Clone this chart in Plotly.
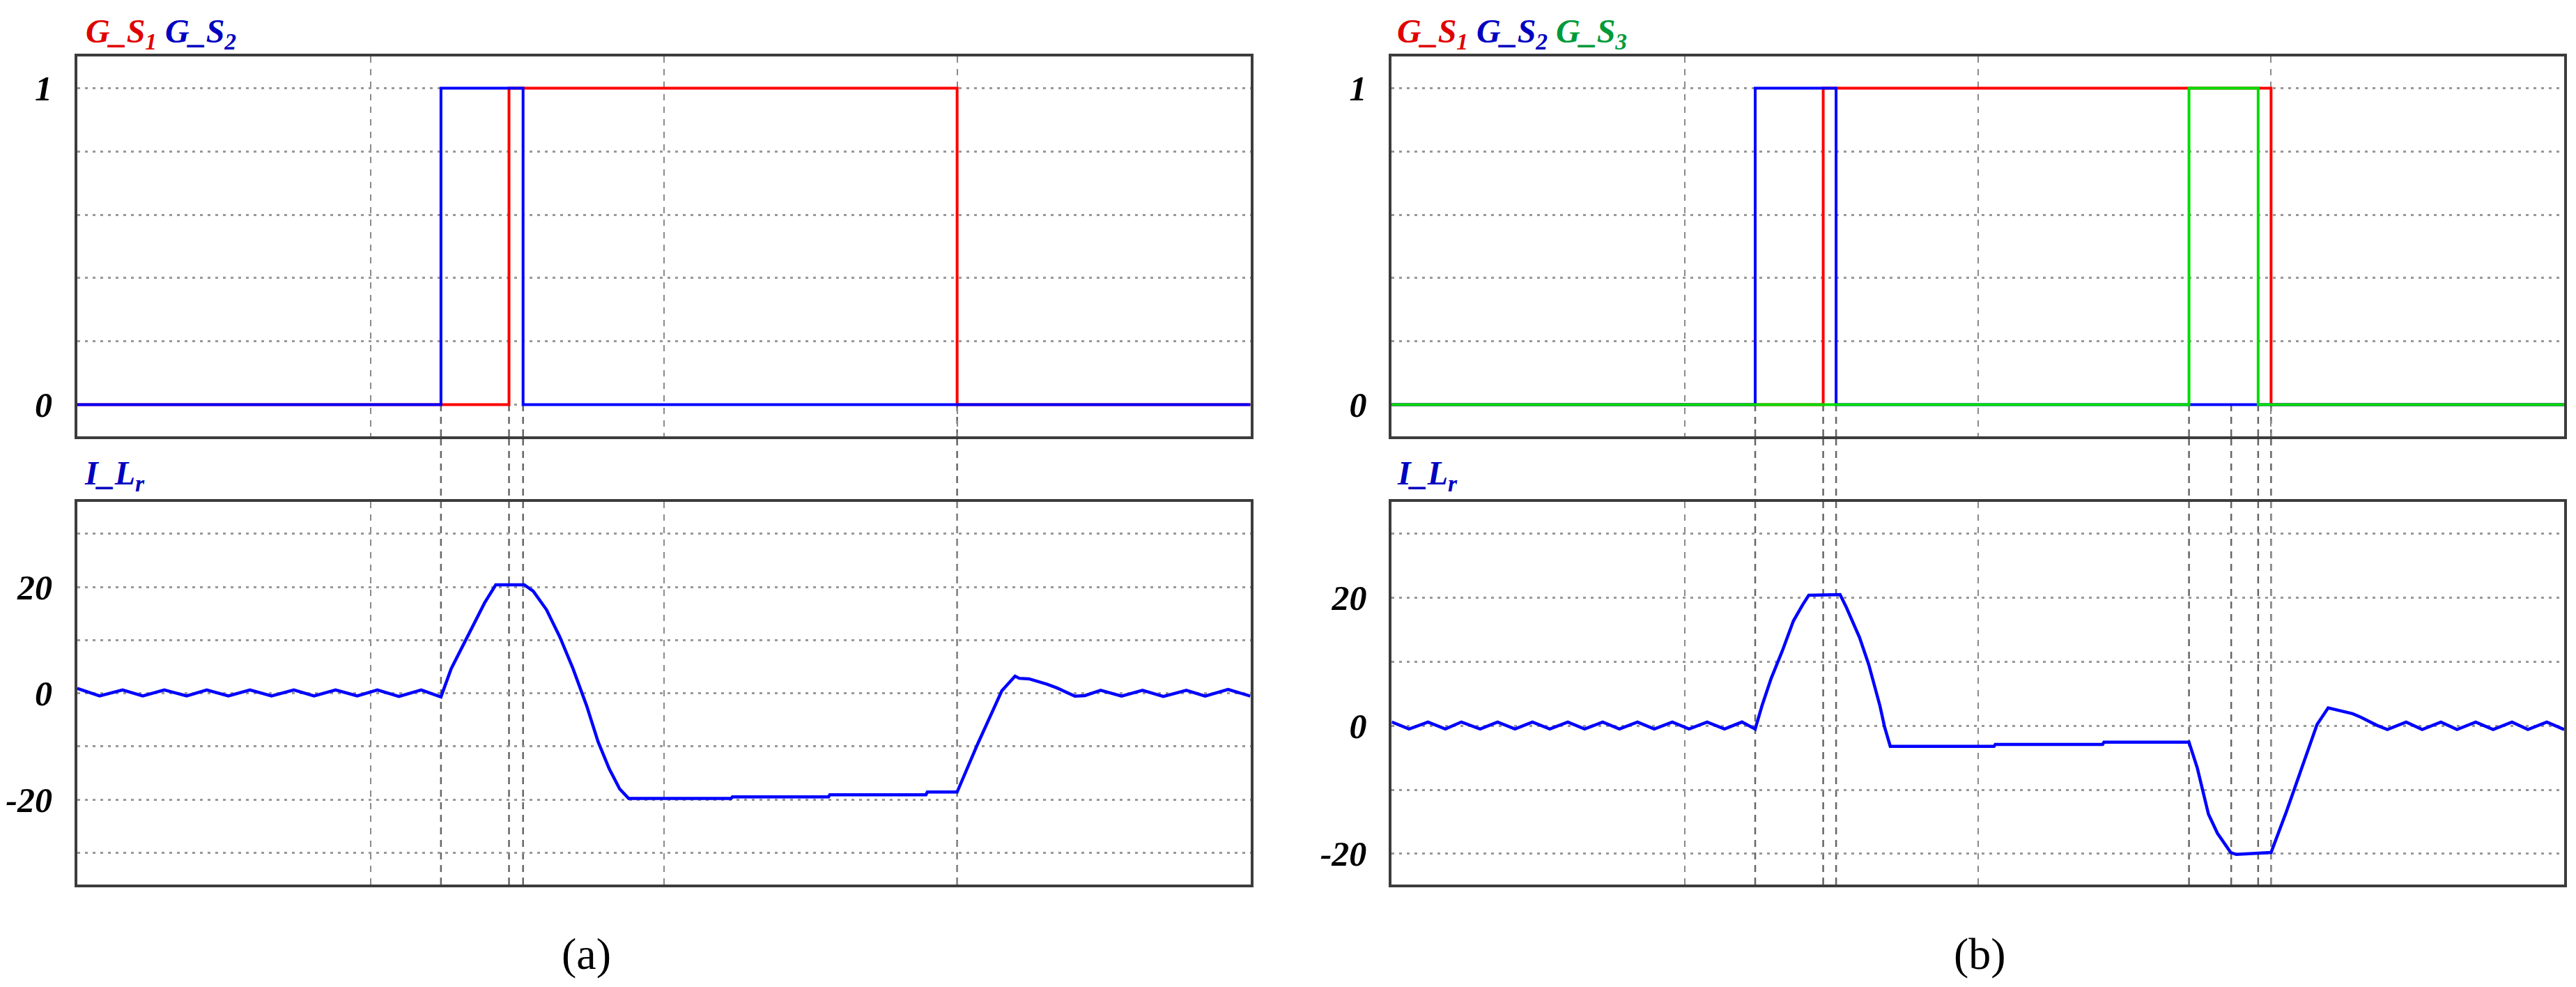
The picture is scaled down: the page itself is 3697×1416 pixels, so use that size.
import plotly.graph_objects as go

# ---------------- data ----------------
# time axis: 0..100 (arbitrary units, vertical grid every 25)
grid_t = [25, 50, 75]

# gate signals, panel (a)
t_gs1_a = [0, 36.8, 75.0, 100]
v_gs1_a = [0, 1, 0, 0]
t_gs2_a = [0, 31.0, 38.0, 100]
v_gs2_a = [0, 1, 0, 0]

# gate signals, panel (b)
t_gs1_b = [0, 36.8, 75.0, 100]
v_gs1_b = [0, 1, 0, 0]
t_gs2_b = [0, 31.0, 37.9, 100]
v_gs2_b = [0, 1, 0, 0]
t_gs3_b = [0, 68.0, 73.9, 100]
v_gs3_b = [0, 1, 0, 0]

# resonant inductor current, panel (a)
t_il_a = [0.0, 1.90, 3.86, 5.58, 7.42, 9.32, 11.04, 12.88, 14.72, 16.56, 18.46, 20.18,
          22.02, 23.86, 25.58, 27.42, 29.32, 31.0,
          31.87, 33.59, 34.72, 35.67, 38.10, 38.87, 40.0, 41.13, 42.26, 43.44, 44.39,
          45.34, 46.23, 47.0,
          55.73, 55.85, 64.04, 64.15, 72.34, 72.46, 75.0,
          76.74, 77.86, 78.81, 79.94, 80.3, 81.13, 81.9, 82.67, 83.5, 84.27, 85.04,
          85.88, 87.24, 89.02, 90.8, 92.58, 94.54, 96.14, 98.1, 100.0]
v_il_a = [0.9, -0.5, 0.6, -0.5, 0.6, -0.5, 0.6, -0.5, 0.6, -0.5, 0.6, -0.5,
          0.6, -0.5, 0.6, -0.6, 0.6, -0.7,
          4.6, 12.1, 17.0, 20.4, 20.4, 19.2, 15.7, 10.6, 4.6, -2.5, -9.1,
          -14.2, -18.0, -19.8,
          -19.8, -19.5, -19.5, -19.1, -19.1, -18.6, -18.6,
          -9.6, -4.3, 0.45, 3.2, 2.8, 2.7, 2.2, 1.7, 1.0, 0.2, -0.55,
          -0.45, 0.55, -0.55, 0.55, -0.6, 0.55, -0.55, 0.7, -0.55]

# resonant inductor current, panel (b)
t_il_b = [0.0, 1.48, 3.09, 4.57, 5.94, 7.54, 9.03, 10.51, 12.0, 13.48, 15.02, 16.45,
          17.99, 19.42, 20.96, 22.39, 23.93, 25.36, 26.9, 28.38, 29.87, 31.0,
          31.59, 32.36, 33.31, 34.26, 35.04, 35.57, 38.24, 38.78, 39.9, 40.68, 41.63,
          42.04, 42.52,
          51.37, 51.48, 60.63, 60.75, 68.0,
          68.71, 69.66, 70.43, 71.56, 72.03, 75.0,
          76.31, 77.79, 78.92, 79.87, 80.82, 81.95, 82.66, 83.25, 84.03, 84.92, 86.52,
          87.89, 89.49, 90.86, 92.46, 93.94, 95.55, 96.91, 98.52, 100.0]
v_il_b = [0.6, -0.5, 0.6, -0.5, 0.6, -0.5, 0.6, -0.5, 0.6, -0.5, 0.6, -0.5,
          0.6, -0.5, 0.6, -0.5, 0.6, -0.5, 0.6, -0.5, 0.6, -0.5,
          3.2, 7.4, 11.7, 16.4, 18.9, 20.4, 20.5, 18.5, 13.8, 9.6, 3.2,
          -0.2, -3.2,
          -3.2, -2.9, -2.9, -2.55, -2.55,
          -6.6, -13.8, -16.8, -19.8, -20.1, -19.8,
          -13.4, -5.7, 0.2, 2.8, 2.4, 1.9, 1.35, 0.77, 0.08, -0.58, 0.58,
          -0.58, 0.58, -0.58, 0.58, -0.58, 0.58, -0.58, 0.58, -0.58]

# switching instants marked by dashed lines
events_a = [31.0, 36.8, 38.0, 75.0]
events_b = [31.0, 36.8, 37.9, 68.0, 71.6, 73.9, 75.0]

# axis ticks (labelled) and extra grid levels (unlabelled)
gate_ticks = [0, 1]
gate_ticktext = ["0", "1"]
gate_grid = [0.2, 0.4, 0.6, 0.8]
il_ticks = [-20, 0, 20]
il_ticktext = ["-20", "0", "20"]
il_grid_a = [-30, -10, 10, 30]
il_grid_b = [-10, 10, 30]

gate_range = [-0.1, 1.1]
il_range_a = [-36, 36]
il_range_b = [-24.8, 35.0]

# ---------------- layout helpers ----------------
W, H = 3697, 1416


def fx(p):
    return p / W


def fy(p):
    return 1 - p / H


dom_a = [fx(100), fx(1785)]
dom_b = [fx(1988), fx(3672)]
dom_top = [fy(618), fy(73)]
dom_bot = [fy(1261), fy(712)]

RED, BLUE, GREEN = '#ff0000', '#0000ff', '#00dd00'
TXT_RED, TXT_BLUE, TXT_GREEN = '#e00000', '#0000c0', '#009a3a'
GATE_W = 4
IL_W = 4.5

fig = go.Figure()


def gate(x, y, col, xa, ya):
    fig.add_trace(go.Scatter(x=x, y=y, mode='lines', xaxis=xa, yaxis=ya,
                             line=dict(color=col, width=GATE_W, shape='hv'),
                             showlegend=False, hoverinfo='skip'))


gate(t_gs1_a, v_gs1_a, RED, 'x', 'y')
gate(t_gs2_a, v_gs2_a, BLUE, 'x', 'y')
fig.add_trace(go.Scatter(x=t_il_a, y=v_il_a, mode='lines', xaxis='x2', yaxis='y2',
                         line=dict(color=BLUE, width=IL_W), showlegend=False))
gate(t_gs1_b, v_gs1_b, RED, 'x3', 'y3')
gate(t_gs2_b, v_gs2_b, BLUE, 'x3', 'y3')
gate(t_gs3_b, v_gs3_b, GREEN, 'x3', 'y3')
fig.add_trace(go.Scatter(x=t_il_b, y=v_il_b, mode='lines', xaxis='x4', yaxis='y4',
                         line=dict(color=BLUE, width=IL_W), showlegend=False))

tick_font = dict(family='Liberation Serif', size=50, color='black',
                 weight='bold', style='italic')

HGRID = dict(gridcolor='#999999', gridwidth=3, griddash='4px,7px')
VGRID = dict(gridcolor='#8a8a8a', gridwidth=2, griddash='9px,9px')


def xax(domain, anchor):
    return dict(domain=domain, anchor=anchor, range=[0, 100], tickvals=[],
                showticklabels=False, ticks='', showgrid=False, zeroline=False,
                showline=True, mirror=True, linecolor='#3c3c3c', linewidth=4,
                fixedrange=True,
                minor=dict(tickvals=grid_t, showgrid=True, ticks='', **VGRID))


def yax(domain, anchor, rng, tv, tt, minor_vals):
    return dict(domain=domain, anchor=anchor, range=rng, tickvals=tv, ticktext=tt,
                ticks='', showgrid=True, zeroline=False, showline=True, mirror=True,
                linecolor='#3c3c3c', linewidth=4, tickfont=tick_font,
                ticklabelstandoff=22, fixedrange=True,
                minor=dict(tickvals=minor_vals, showgrid=True, ticks='', **HGRID),
                **HGRID)


fig.update_layout(
    width=W, height=H,
    margin=dict(l=0, r=0, t=0, b=0),
    paper_bgcolor='white', plot_bgcolor='rgba(0,0,0,0)',
    showlegend=False,
    xaxis=xax(dom_a, 'y'),
    yaxis=yax(dom_top, 'x', gate_range, gate_ticks, gate_ticktext, gate_grid),
    xaxis2=xax(dom_a, 'y2'),
    yaxis2=yax(dom_bot, 'x2', il_range_a, il_ticks, il_ticktext, il_grid_a),
    xaxis3=xax(dom_b, 'y3'),
    yaxis3=yax(dom_top, 'x3', gate_range, gate_ticks, gate_ticktext, gate_grid),
    xaxis4=xax(dom_b, 'y4'),
    yaxis4=yax(dom_bot, 'x4', il_range_b, il_ticks, il_ticktext, il_grid_b),
)

ev_line = dict(color='#666666', width=2.5, dash='10px,8px')
for evs, xa, ya in ((events_a, 'x', 'y'), (events_b, 'x3', 'y3')):
    for t in evs:
        fig.add_shape(type='line', xref=xa, yref=ya, x0=t, x1=t,
                      y0=gate_range[0], y1=0, line=ev_line, layer='below')
        fig.add_shape(type='line', xref=xa, yref='paper', x0=t, x1=t,
                      y0=dom_bot[0], y1=dom_top[0], line=ev_line, layer='below')

lab_font = dict(family='Liberation Serif', size=48, weight='bold', style='italic')


def label(text, x, y, col):
    fig.add_annotation(text=text, xref='paper', yref='paper', x=fx(x), y=fy(y),
                       xanchor='left', yanchor='middle', showarrow=False,
                       font=dict(lab_font, color=col))


label('G_S<sub>1</sub>', 110, 40, TXT_RED)
label('G_S<sub>2</sub>', 224, 40, TXT_BLUE)
label('I_L<sub>r</sub>', 108, 674, TXT_BLUE)
label('G_S<sub>1</sub>', 1994, 40, TXT_RED)
label('G_S<sub>2</sub>', 2108, 40, TXT_BLUE)
label('G_S<sub>3</sub>', 2222, 40, TXT_GREEN)
label('I_L<sub>r</sub>', 1994, 674, TXT_BLUE)

for txt, xc in (('(a)', 831), ('(b)', 2833)):
    fig.add_annotation(text=txt, xref='paper', yref='paper', x=fx(xc), y=fy(1360),
                       xanchor='center', yanchor='middle', showarrow=False,
                       font=dict(family='Liberation Serif', size=64, color='black'))

fig.write_html('out.html')
